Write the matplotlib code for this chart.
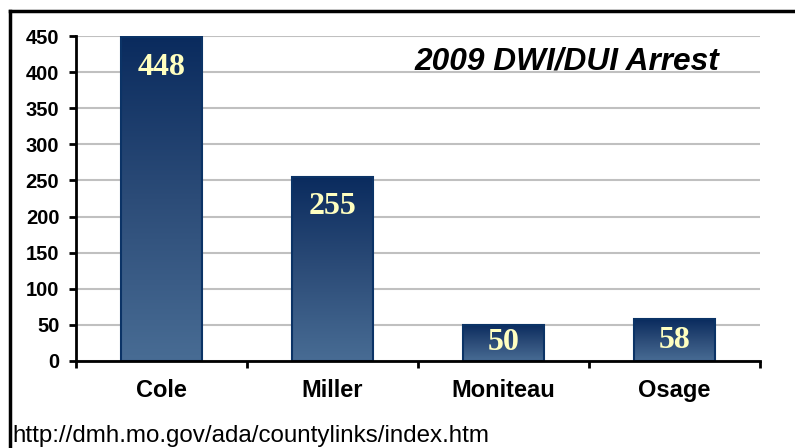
import numpy as np
import matplotlib
matplotlib.use('Agg')
import matplotlib.pyplot as plt
from matplotlib.colors import LinearSegmentedColormap
from matplotlib.lines import Line2D

counties = ['Cole', 'Miller', 'Moniteau', 'Osage']
arrests = [448, 255, 50, 58]
yticks = [0, 50, 100, 150, 200, 250, 300, 350, 400, 450]

title = '2009 DWI/DUI Arrest'
source = 'http://dmh.mo.gov/ada/countylinks/index.htm'

plt.rcParams['font.family'] = ['Liberation Sans', 'DejaVu Sans']

fig = plt.figure(figsize=(7.95, 4.48), dpi=100)
ax = fig.add_axes([76/795, 1-361/448, (760-76)/795, (361-36)/448])

# bar gradient: light at bottom, dark navy at top
cmap = LinearSegmentedColormap.from_list('bar', ['#486C94', '#2C4C78', '#0A2B5E'])
grad = np.linspace(0, 1, 256).reshape(-1, 1)
w = 0.47
x = np.arange(len(counties))
for xi, v in zip(x, arrests):
    ax.imshow(grad, cmap=cmap, origin='lower', aspect='auto',
              extent=(xi - w/2, xi + w/2, 0, v), zorder=2)
    ax.add_patch(plt.Rectangle((xi - w/2, 0), w, v, fill=False,
                               edgecolor='#0B3366', lw=1.5, zorder=3))
    ypos = max(v - 41, v / 2)
    ax.text(xi, ypos, str(v), ha='center', va='center', color='#FFFFC0',
            fontsize=23, fontweight='bold', family=['Liberation Serif', 'DejaVu Serif'], zorder=4)

ax.set_xlim(-0.5, len(counties) - 0.5)
ax.set_ylim(0, 450)
ax.set_yticks(yticks)
ax.set_yticklabels([str(t) for t in yticks], fontsize=14.5, fontweight='bold')
ax.set_xticks(x)
ax.set_xticklabels(counties, fontsize=17, fontweight='bold')
ax.set_xticks(np.arange(-0.5, len(counties)), minor=True)
ax.tick_params(axis='x', which='major', length=0, pad=13)
ax.tick_params(axis='x', which='minor', length=5, width=2, direction='out')
ax.tick_params(axis='y', length=5, width=2, direction='out', pad=7)

ax.grid(axis='y', color='#C0C0C0', lw=1.5, zorder=0)
ax.set_axisbelow(True)
for s in ['top', 'right']:
    ax.spines[s].set_visible(False)
for s in ['left', 'bottom']:
    ax.spines[s].set_linewidth(2)
    ax.spines[s].set_zorder(5)

fig.text(415/795, 1-61/448, title, ha='left', va='center', fontsize=22.8,
         fontweight='bold', fontstyle='italic')
fig.text(12/795, 1-436/448, source, ha='left', va='center', fontsize=17.4)

# outer frame (top and left edges visible)
fig.add_artist(Line2D([10/795, 10/795], [0, 1-11/448], color='black', lw=2.5,
                      transform=fig.transFigure))
fig.add_artist(Line2D([10/795, 1], [1-11/448, 1-11/448], color='black', lw=2.5,
                      transform=fig.transFigure))

fig.savefig('out.png', dpi=100)
